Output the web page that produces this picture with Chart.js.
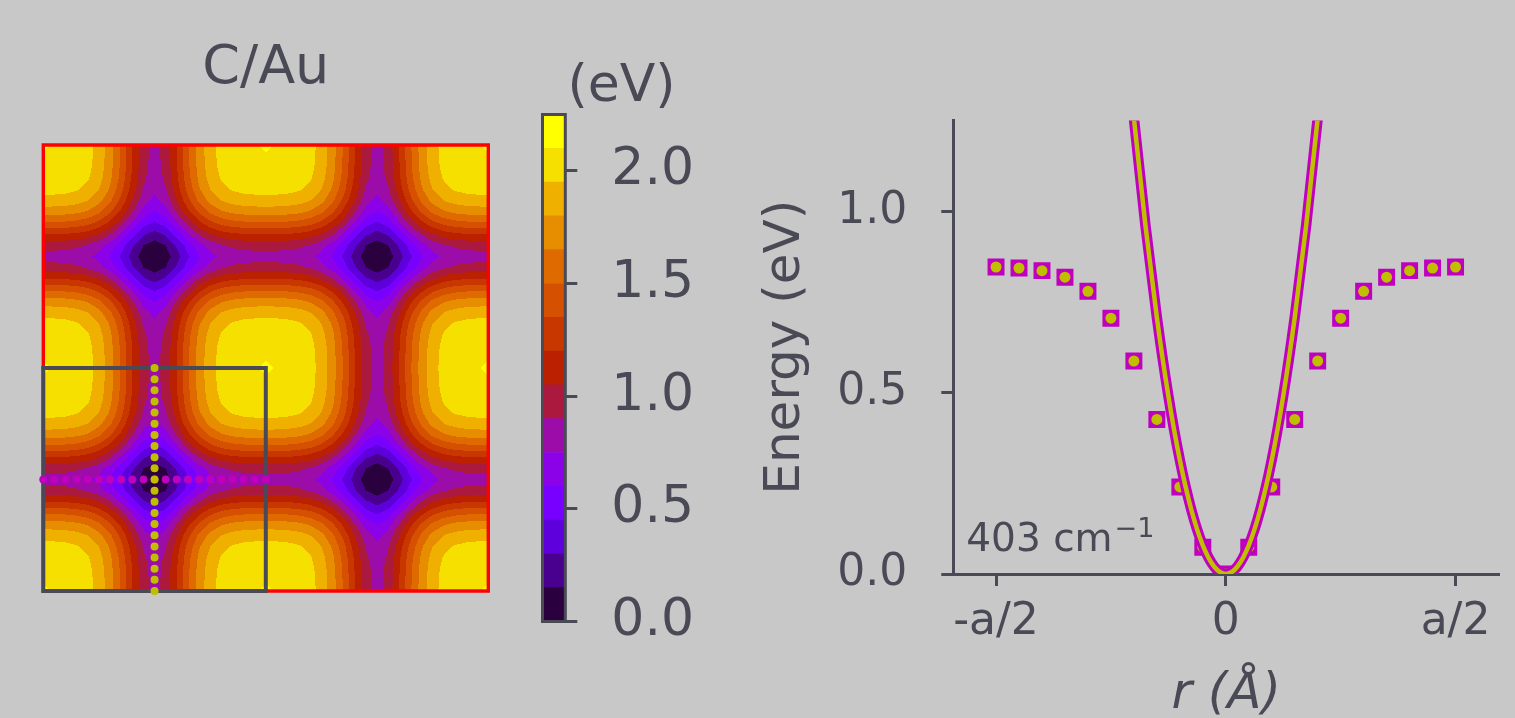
<!DOCTYPE html>
<html>
<head>
<meta charset="utf-8">
<title>C/Au</title>
<script src="https://cdn.jsdelivr.net/npm/chart.js@4.4.1/dist/chart.umd.min.js"></script>
<style>
  html, body { margin: 0; padding: 0; background: #c8c8c8; }
  body { width: 1515px; height: 718px; position: relative; overflow: hidden; }
  canvas { position: absolute; display: block; }
</style>
</head>
<body>
<canvas id="map"  width="466" height="581" style="left:33px;top:20px"></canvas>
<canvas id="cbar" width="200" height="648" style="left:520px;top:40px"></canvas>
<canvas id="scan" width="775" height="658" style="left:740px;top:60px"></canvas>
<script>
// ---------------- data ----------------
// displacement along a scan line, in units of the lattice constant a
const scanR = [-0.50, -0.45, -0.40, -0.35, -0.30, -0.25, -0.20, -0.15, -0.10, -0.05, 0.00,
                0.05,  0.10,  0.15,  0.20,  0.25,  0.30,  0.35,  0.40,  0.45, 0.50];
// energy (eV) along the horizontal (magenta) and vertical (yellow) scans
const scanHoriz = [0.846, 0.843, 0.836, 0.818, 0.779, 0.705, 0.587, 0.426, 0.240, 0.074, 0.000,
                   0.074, 0.240, 0.426, 0.587, 0.705, 0.779, 0.818, 0.836, 0.843, 0.846];
const scanVert  = [0.846, 0.843, 0.836, 0.818, 0.779, 0.705, 0.587, 0.426, 0.240, 0.074, 0.000,
                   0.074, 0.240, 0.426, 0.587, 0.705, 0.779, 0.818, 0.836, 0.843, 0.846];
// harmonic fit near the minimum
const fitR = [-0.21, -0.20, -0.175, -0.15, -0.125, -0.10, -0.075, -0.05, -0.025, 0.00,
               0.025, 0.05, 0.075, 0.10, 0.125, 0.15, 0.175, 0.20, 0.21];
const fitE = [1.385, 1.256, 0.962, 0.707, 0.491, 0.314, 0.177, 0.079, 0.020, 0.000,
              0.020, 0.079, 0.177, 0.314, 0.491, 0.707, 0.962, 1.256, 1.385];
const fitLabel = '403';

// energy on top of the surface atoms (maximum of the map), eV
const peakEnergy = 2.103;
// contour levels (eV) and the colour of each band
const levels = [0.00, 0.15, 0.30, 0.45, 0.60, 0.75, 0.90, 1.05, 1.20, 1.35, 1.50, 1.65, 1.80, 1.95, 2.10, 2.25];
const bandColors = ['#2b003f', '#49008f', '#5d00dc', '#7800fe', '#8c02e8', '#9b0ca8', '#ab1a3e',
                    '#bb2100', '#c93700', '#d55000', '#df6b00', '#e78d00', '#f0b000', '#f5e000', '#ffff00'];
const cbarTicks = [0.0, 0.5, 1.0, 1.5, 2.0];
const energyTicks = [0.0, 0.5, 1.0];
const rTicks = [-0.5, 0.0, 0.5];
const rTickLabels = ['-a/2', '0', 'a/2'];
// outlines on the map (in units of a)
const unitCell  = [[0, 0], [1, 0], [1, 1], [0, 1], [0, 0]];
const superCell = [[0, 0], [2, 0], [2, 2], [0, 2], [0, 0]];

// ---------------- style ----------------
const INK = '#4a4a56';
const MAGENTA = '#bf00bf';
const OLIVE = '#bfbf00';
Chart.defaults.font.family = "'DejaVu Sans', 'Liberation Sans', sans-serif";
Chart.defaults.color = INK;

// ---------------- potential energy surface ----------------
// Node values of one cell on the scan grid: the two line scans combined,
// with a coupling term fixed by the peak energy at the cell corners.
const h0 = scanHoriz[0], v0 = scanVert[0];
const coupling = (peakEnergy - h0 - v0) / (h0 * v0);
const nodes = scanHoriz.map(h => scanVert.map(v => h + v + coupling * h * v));
const nSteps = scanR.length - 1;

function energyAt(u, v) {
  const fu = (((u % 1) + 1) % 1) * nSteps;
  const fv = (((v % 1) + 1) % 1) * nSteps;
  const i = Math.min(Math.floor(fu), nSteps - 1), j = Math.min(Math.floor(fv), nSteps - 1);
  const tu = fu - i, tv = fv - j;
  return nodes[i][j] * (1 - tu) * (1 - tv) + nodes[i + 1][j] * tu * (1 - tv)
       + nodes[i][j + 1] * (1 - tu) * tv + nodes[i + 1][j + 1] * tu * tv;
}
function bandOf(e) {
  for (let b = 0; b < bandColors.length; b++) if (e < levels[b + 1]) return b;
  return bandColors.length - 1;
}

// filled contour bands, painted row by row through the chart scales
const contourPlugin = {
  id: 'contourBands',
  beforeDatasetsDraw(chart) {
    const { ctx, chartArea: a, scales: { x, y } } = chart;
    ctx.save();
    ctx.beginPath();
    ctx.rect(a.left, a.top, a.right - a.left, a.bottom - a.top);
    ctx.clip();
    const x0 = Math.floor(a.left), x1 = Math.ceil(a.right);
    const y0 = Math.floor(a.top), y1 = Math.ceil(a.bottom);
    const us = [];
    for (let px = x0; px < x1; px++) us.push(x.getValueForPixel(px + 0.5));
    for (let py = y0; py < y1; py++) {
      const v = y.getValueForPixel(py + 0.5);
      let start = 0, band = bandOf(energyAt(us[0], v));
      for (let k = 1; k <= us.length; k++) {
        const b = k < us.length ? bandOf(energyAt(us[k], v)) : -1;
        if (b !== band) {
          ctx.fillStyle = bandColors[band];
          ctx.fillRect(x0 + start, py, k - start, 1);
          start = k; band = b;
        }
      }
    }
    ctx.restore();
  }
};

const pts = arr => arr.map(p => ({ x: p[0], y: p[1] }));

new Chart(document.getElementById('map'), {
  type: 'scatter',
  data: {
    datasets: [
      { label: 'vertical scan', data: scanR.map(r => ({ x: 0.5, y: r + 0.5 })),
        pointRadius: 4, pointBackgroundColor: OLIVE, pointBorderWidth: 0, order: 0, clip: false },
      { label: 'horizontal scan', data: scanR.map(r => ({ x: r + 0.5, y: 0.5 })),
        pointRadius: 4, pointBackgroundColor: MAGENTA, pointBorderWidth: 0, order: 1, clip: false },
      { label: 'unit cell', data: pts(unitCell), showLine: true, borderColor: INK, borderWidth: 4,
        borderCapStyle: 'square', borderJoinStyle: 'miter', pointRadius: 0, order: 2, clip: false },
      { label: 'supercell', data: pts(superCell), showLine: true, borderColor: '#ff0000', borderWidth: 3.4,
        borderCapStyle: 'square', borderJoinStyle: 'miter', pointRadius: 0, order: 3, clip: false }
    ]
  },
  options: {
    responsive: false, animation: false, devicePixelRatio: 1, events: [],
    layout: { padding: { left: 10.3, right: 10.7, top: 0, bottom: 10 } },
    plugins: {
      legend: { display: false }, tooltip: { enabled: false },
      title: { display: true, text: 'C/Au', color: INK, font: { size: 54, weight: 'normal', lineHeight: 1.2 },
               padding: { top: 16.6, bottom: 43.6 } }
    },
    scales: {
      x: { type: 'linear', min: 0, max: 2, display: false },
      y: { type: 'linear', min: 0, max: 2, display: false }
    }
  },
  plugins: [contourPlugin]
});

// ---------------- colour bar ----------------
const cbarPlugin = {
  id: 'cbarFrame',
  afterDatasetsDraw(chart) {
    const { ctx, chartArea: a } = chart;
    ctx.save();
    ctx.strokeStyle = INK;
    ctx.lineWidth = 3;
    ctx.strokeRect(a.left, a.top, a.right - a.left, a.bottom - a.top);
    ctx.restore();
  },
  afterDraw(chart) {
    const { ctx, chartArea: a } = chart;
    ctx.save();
    ctx.fillStyle = INK;
    ctx.font = "52px 'DejaVu Sans', sans-serif";
    ctx.textAlign = 'left';
    ctx.textBaseline = 'middle';
    ctx.fillText('(eV)', a.left + 25, a.top - 27);
    ctx.restore();
  }
};

new Chart(document.getElementById('cbar'), {
  type: 'bar',
  data: {
    labels: [''],
    datasets: bandColors.map((c, i) => ({
      label: levels[i].toFixed(2), data: [levels[i + 1] - levels[i]], backgroundColor: c,
      borderWidth: 0, barPercentage: 1, categoryPercentage: 1
    }))
  },
  options: {
    responsive: false, animation: false, devicePixelRatio: 1, events: [],
    layout: { padding: { left: 22.5, right: 0, top: 74.5, bottom: 66.5 } },
    plugins: { legend: { display: false }, tooltip: { enabled: false } },
    scales: {
      x: { stacked: true, display: false },
      y: {
        stacked: true, position: 'right', min: levels[0], max: levels[levels.length - 1],
        afterBuildTicks: s => { s.ticks = cbarTicks.map(v => ({ value: v })); },
        afterFit: s => { s.width = 154.7; },
        grid: { display: true, drawOnChartArea: false, drawTicks: true, tickLength: 12, tickWidth: 3, tickColor: INK },
        border: { display: false },
        ticks: { padding: 34, color: INK, font: { size: 52 }, callback: v => Number(v).toFixed(1) }
      }
    }
  },
  plugins: [cbarPlugin]
});

// ---------------- energy profile ----------------
const annotatePlugin = {
  id: 'freqLabel',
  afterDraw(chart) {
    const { ctx, chartArea: a } = chart;
    ctx.save();
    ctx.fillStyle = INK;
    ctx.textAlign = 'left';
    ctx.textBaseline = 'alphabetic';
    ctx.font = "39px 'DejaVu Sans', sans-serif";
    const x = a.left + 13, base = a.bottom - 23.3;
    const main = fitLabel + ' cm';
    ctx.fillText(main, x, base);
    const w = ctx.measureText(main).width;
    ctx.font = "27px 'DejaVu Sans', sans-serif";
    ctx.fillText('\u22121', x + w + 2, base - 14);
    ctx.restore();
  }
};

new Chart(document.getElementById('scan'), {
  type: 'scatter',
  data: {
    datasets: [
      { label: 'fit (vertical)', data: fitR.map((r, i) => ({ x: r, y: fitE[i] })), showLine: true,
        borderColor: OLIVE, borderWidth: 4.5, pointRadius: 0, cubicInterpolationMode: 'monotone', order: 0 },
      { label: 'fit (horizontal)', data: fitR.map((r, i) => ({ x: r, y: fitE[i] })), showLine: true,
        borderColor: MAGENTA, borderWidth: 10.5, pointRadius: 0, cubicInterpolationMode: 'monotone', order: 1 },
      { label: 'vertical scan', data: scanR.map((r, i) => ({ x: r, y: scanVert[i] })),
        pointStyle: 'circle', pointRadius: 5.5, pointBackgroundColor: OLIVE, pointBorderWidth: 0, order: 2 },
      { label: 'horizontal scan', data: scanR.map((r, i) => ({ x: r, y: scanHoriz[i] })),
        pointStyle: 'rect', pointRadius: 12, pointBackgroundColor: MAGENTA, pointBorderWidth: 0, order: 3 }
    ]
  },
  options: {
    responsive: false, animation: false, devicePixelRatio: 1, events: [],
    layout: { padding: { left: 0, right: 15.8, top: 59.9, bottom: 0 } },
    plugins: { legend: { display: false }, tooltip: { enabled: false } },
    scales: {
      x: {
        type: 'linear', min: -0.593, max: 0.595,
        afterBuildTicks: s => { s.ticks = rTicks.map(v => ({ value: v })); },
        afterFit: s => { s.height = 144; },
        grid: { display: true, drawOnChartArea: false, drawTicks: true, tickLength: 12, tickWidth: 3, tickColor: INK },
        border: { display: true, color: INK, width: 3 },
        ticks: { padding: 10, color: INK, font: { size: 44 }, maxRotation: 0, autoSkip: false,
                 callback: (v, i) => rTickLabels[i] },
        title: { display: true, text: 'r (Å)', color: INK, font: { size: 50, style: 'italic', lineHeight: 0.9 },
                 padding: { top: 0, bottom: 0 } }
      },
      y: {
        type: 'linear', min: 0, max: 1.25,
        afterBuildTicks: s => { s.ticks = energyTicks.map(v => ({ value: v })); },
        afterFit: s => { s.width = 213.3; },
        grid: { display: true, drawOnChartArea: false, drawTicks: true, tickLength: 12, tickWidth: 3, tickColor: INK },
        border: { display: true, color: INK, width: 3 },
        ticks: { padding: 34, color: INK, font: { size: 44 }, callback: v => Number(v).toFixed(1) },
        title: { display: true, text: 'Energy (eV)', color: INK, font: { size: 50, lineHeight: 1.2 },
                 padding: { top: 16, bottom: 0 } }
      }
    }
  },
  plugins: [annotatePlugin]
});
</script>
</body>
</html>
